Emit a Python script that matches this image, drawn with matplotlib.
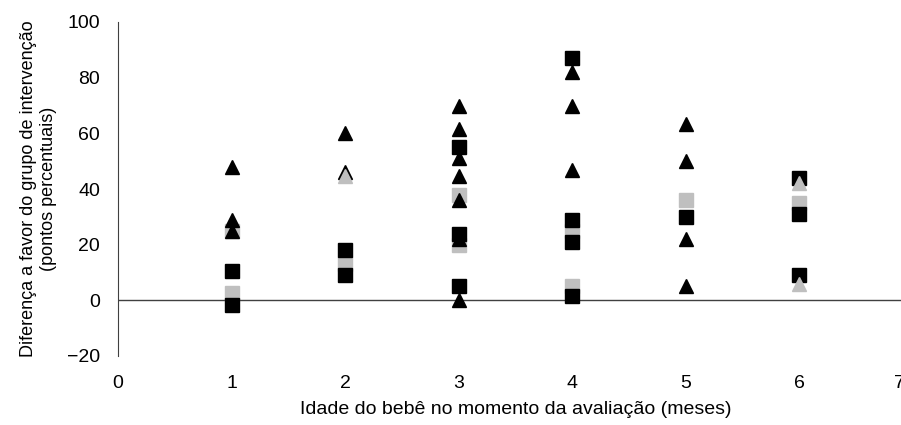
import matplotlib
matplotlib.use("Agg")
import matplotlib.pyplot as plt
import matplotlib.transforms as mtransforms

plt.rcParams["font.family"] = ["Liberation Sans", "DejaVu Sans"]

# black triangles
tri_black_x = [1, 1, 1, 2, 2, 3, 3, 3, 3, 3, 3, 3, 4, 4, 4, 5, 5, 5, 5]
tri_black_y = [48, 29, 25, 60, 46, 70, 61.5, 51, 44.5, 36, 22, 0, 82, 70, 47, 63.5, 50, 22, 5]

# black squares
sq_black_x = [1, 1, 2, 2, 3, 3, 3, 4, 4, 4, 4, 5, 6, 6, 6]
sq_black_y = [10.5, -1.5, 18, 9, 55, 24, 5, 87, 29, 21, 1.5, 30, 44, 31, 9]

# grey squares
sq_grey_x = [1, 1, 2, 3, 3, 4, 4, 5, 6]
sq_grey_y = [25, 2.5, 13, 38, 20, 25, 5, 36, 35]

# grey triangles
tri_grey_x = [2, 6, 6]
tri_grey_y = [44.5, 42, 6]

x_ticks = [0, 1, 2, 3, 4, 5, 6, 7]
y_ticks = [-20, 0, 20, 40, 60, 80, 100]

BLACK = "#000000"
GREY = "#bfbfbf"


def main():
    fig = plt.figure(figsize=(9.01, 4.25), dpi=100)
    ax = fig.add_axes([118 / 901, 69 / 425, 795 / 901, 334 / 425])

    ms = 9.5
    ax.plot(sq_grey_x, sq_grey_y, "s", color=GREY, ms=ms, zorder=3)
    ax.plot(sq_black_x, sq_black_y, "s", color=BLACK, ms=ms, zorder=4)
    ax.plot(tri_black_x, tri_black_y, "^", color=BLACK, ms=ms, zorder=5)
    ax.plot(tri_grey_x, tri_grey_y, "^", color=GREY, ms=ms, zorder=6)

    ax.axhline(0, color="#404040", lw=1, zorder=2)

    ax.set_xlim(0, 7)
    ax.set_ylim(-20, 100)
    ax.set_xticks(x_ticks)
    ax.set_yticks(y_ticks)
    ax.set_yticklabels(["\u221220" if v < 0 else str(v) for v in y_ticks])

    for side in ["top", "right", "bottom"]:
        ax.spines[side].set_visible(False)
    ax.spines["left"].set_color("#404040")
    ax.tick_params(axis="both", length=0, labelsize=14)
    ax.tick_params(axis="x", pad=14)
    ax.tick_params(axis="y", pad=13)

    # last label sits inside the picture in the original
    last = ax.get_xticklabels()[-1]
    last.set_transform(last.get_transform() + mtransforms.ScaledTranslation(-0.14, 0, fig.dpi_scale_trans))

    ax.set_xlabel("Idade do bebê no momento da avaliação (meses)", fontsize=14, labelpad=6)
    ax.set_ylabel("Diferença a favor do grupo de intervenção\n(pontos percentuais)", fontsize=13, labelpad=7)

    fig.savefig("out.png", dpi=100)


if __name__ == "__main__":
    main()
